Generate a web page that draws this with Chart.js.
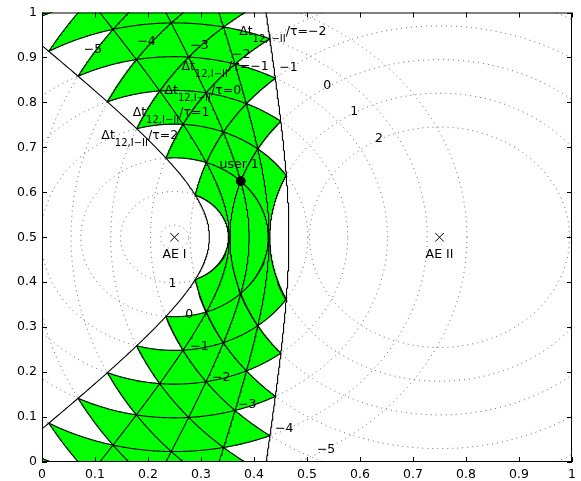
<!DOCTYPE html>
<html lang="en">
<head>
<meta charset="UTF-8">
<title>Range rings and TDOA hyperbolas</title>
<style>
  body { margin: 0; padding: 0; background: #fff; }
  #wrap { width: 581px; height: 481px; }
</style>
<script src="https://cdn.jsdelivr.net/npm/chart.js"></script>
</head>
<body>
<div id="wrap"><canvas id="tdoaChart" width="581" height="481"></canvas></div>
<script>
// emitters, user and the range quantum (c * tau)
const emitterNames = ['AE I', 'AE II'];
const emitterX = [0.25, 0.75];
const emitterY = [0.5, 0.5];
const userName = 'user 1';
const userX = [0.375];
const userY = [0.625];
const rangeStep = 0.075;

// ring levels (in tau), hyperbola levels, and which cells are shaded
const ringLevels = [2, 1, 0, -1, -2, -3, -4, -5];
const arcLevels = [2, 1, 0, -1, -2, -3, -4, -5, -6];
const hyperbolaLevels = [2, 1, 0, -1, -2];
const cellSpread = [-1, 0, 1];
const cellRows = [-2, -1, 0, 1, 2, 3, 4, 5, 6, 7];

const xTicks = [0, 0.1, 0.2, 0.3, 0.4, 0.5, 0.6, 0.7, 0.8, 0.9, 1];
const xTickLabels = ['0', '0.1', '0.2', '0.3', '0.4', '0.5', '0.6', '0.7', '0.8', '0.9', '1'];
const yTicks = [0, 0.1, 0.2, 0.3, 0.4, 0.5, 0.6, 0.7, 0.8, 0.9, 1];
const yTickLabels = ['0', '0.1', '0.2', '0.3', '0.4', '0.5', '0.6', '0.7', '0.8', '0.9', '1'];

// text annotations (data coordinates)
const topRingText = ['\u22125', '\u22124', '\u22123', '\u22122', '\u22121', '0', '1', '2'];
const topRingX = [0.096, 0.197, 0.297, 0.376, 0.465, 0.538, 0.589, 0.636];
const topRingY = [0.918, 0.935, 0.926, 0.907, 0.878, 0.838, 0.779, 0.720];
const bottomRingText = ['1', '0', '\u22121', '\u22122', '\u22123', '\u22124', '\u22125'];
const bottomRingX = [0.246, 0.278, 0.297, 0.338, 0.387, 0.457, 0.536];
const bottomRingY = [0.396, 0.328, 0.256, 0.188, 0.128, 0.075, 0.027];
const dtText = ['\u22122', '\u22121', '0', '1', '2'];
const dtX = [0.372, 0.263, 0.231, 0.171, 0.112];
const dtY = [0.957, 0.880, 0.825, 0.777, 0.726];
const emitterLabelY = [0.460, 0.460];
const userLabelX = 0.372;
const userLabelY = 0.662;

const FONT = '12.5px "DejaVu Sans"';
const SUBFONT = '10px "DejaVu Sans"';

// geometry
const s = rangeStep;
const x1 = emitterX[0], x2 = emitterX[1], yc = emitterY[0];
const D = x2 - x1;
const d1u = Math.hypot(userX[0] - x1, userY[0] - yc);
const d2u = Math.hypot(userX[0] - x2, userY[0] - yc);
const base = d2u - d1u;
const cMin = base + Math.min(...hyperbolaLevels) * s;
const cMax = base + Math.max(...hyperbolaLevels) * s;

function clamp1(v) { return Math.max(-1, Math.min(1, v)); }

function arcPts(cx, r, a0, a1, n) {
    const pts = [];
    for (let i = 0; i <= n; i++) {
        const a = a0 + (a1 - a0) * i / n;
        pts.push({ x: cx + r * Math.cos(a), y: yc + r * Math.sin(a) });
    }
    return pts;
}

// point with range d1 to AE I and d2 to AE II
function fromRanges(d1, d2, sign) {
    const dx = (d1 * d1 - d2 * d2 + D * D) / (2 * D);
    const h = Math.sqrt(Math.max(d1 * d1 - dx * dx, 0));
    return { x: x1 + dx, y: yc + sign * h };
}

function lineSet(points, color, width, dash, order) {
    return {
        data: points, showLine: true, borderColor: color, borderWidth: width,
        borderDash: dash, pointRadius: 0, fill: false, order: order
    };
}

const datasets = [];

// dotted range rings
ringLevels.forEach(k => {
    const r1 = d1u - k * s, r2 = d2u - k * s;
    if (r1 > 0) datasets.push(lineSet(arcPts(x1, r1, 0, 2 * Math.PI, 360), 'rgba(60,60,60,0.75)', 1, [1, 4], 4));
    if (r2 > 0) datasets.push(lineSet(arcPts(x2, r2, 0, 2 * Math.PI, 360), 'rgba(60,60,60,0.75)', 1, [1, 4], 4));
});

// shaded cells
cellRows.forEach(i => {
    cellSpread.forEach(dj => {
        const j = i + dj;
        let a0 = d1u + i * s, a1 = a0 + s, b0 = d2u + j * s, b1 = b0 + s;
        if (a1 <= 0 || b1 <= 0) return;
        a0 = Math.max(a0, 0); b0 = Math.max(b0, 0);
        if (a1 + b1 <= D) return;
        const n = 40, loop = [];
        for (let k = 0; k < n; k++) loop.push([a0 + (a1 - a0) * k / n, b0]);
        for (let k = 0; k < n; k++) loop.push([a1, b0 + (b1 - b0) * k / n]);
        for (let k = 0; k < n; k++) loop.push([a1 - (a1 - a0) * k / n, b1]);
        for (let k = 0; k <= n; k++) loop.push([a0, b1 - (b1 - b0) * k / n]);
        [1, -1].forEach(sign => {
            datasets.push({
                data: loop.map(p => fromRanges(p[0], p[1], sign)),
                showLine: true, fill: 'shape', backgroundColor: '#00ff00',
                borderColor: '#00ff00', borderWidth: 1, pointRadius: 0, order: 3
            });
        });
    });
});

// solid ring arcs inside the hyperbola band
arcLevels.forEach(k => {
    const r = d1u - k * s;
    if (r > 0) {
        const lo = Math.max(r + cMin, Math.abs(D - r)), hi = Math.min(r + cMax, D + r);
        if (lo < hi) {
            const t0 = Math.acos(clamp1((r * r + D * D - lo * lo) / (2 * r * D)));
            const t1 = Math.acos(clamp1((r * r + D * D - hi * hi) / (2 * r * D)));
            datasets.push(lineSet(arcPts(x1, r, t0, t1, 200), '#000', 1.1, [], 2));
            datasets.push(lineSet(arcPts(x1, r, -t0, -t1, 200), '#000', 1.1, [], 2));
        }
    }
    const R = d2u - k * s;
    if (R > 0) {
        const lo = Math.max(R - cMax, Math.abs(D - R)), hi = Math.min(R - cMin, D + R);
        if (lo < hi) {
            const p0 = Math.acos(clamp1((lo * lo - R * R - D * D) / (2 * R * D)));
            const p1 = Math.acos(clamp1((hi * hi - R * R - D * D) / (2 * R * D)));
            datasets.push(lineSet(arcPts(x2, R, p0, p1, 200), '#000', 1.1, [], 2));
            datasets.push(lineSet(arcPts(x2, R, -p0, -p1, 200), '#000', 1.1, [], 2));
        }
    }
});

// hyperbolas d2 - d1 = const
hyperbolaLevels.forEach(m => {
    const a = (base + m * s) / 2, c = D / 2, b = Math.sqrt(c * c - a * a);
    const xm = (x1 + x2) / 2;
    const tMax = Math.asinh(0.55 / b);
    const pts = [];
    for (let i = 0; i <= 300; i++) {
        const t = -tMax + 2 * tMax * i / 300;
        pts.push({ x: xm - a * Math.cosh(t), y: yc + b * Math.sinh(t) });
    }
    datasets.push(lineSet(pts, '#000', 1.1, [], 1));
});

// emitters and user
datasets.push({
    data: emitterX.map((v, i) => ({ x: v, y: emitterY[i] })),
    showLine: false, pointStyle: 'crossRot', pointRadius: 6,
    borderColor: '#000', borderWidth: 1, backgroundColor: '#000', order: 0
});
datasets.push({
    data: userX.map((v, i) => ({ x: v, y: userY[i] })),
    showLine: false, pointStyle: 'circle', pointRadius: 4.5,
    borderColor: '#000', borderWidth: 1, backgroundColor: '#000', order: 0
});

const textPlugin = {
    id: 'textAndBox',
    afterDatasetsDraw(chart) {
        const { ctx, scales: { x, y } } = chart;
        ctx.save();
        ctx.fillStyle = '#000';
        ctx.textBaseline = 'middle';
        ctx.textAlign = 'center';
        ctx.font = FONT;
        topRingText.forEach((t, i) => ctx.fillText(t, x.getPixelForValue(topRingX[i]), y.getPixelForValue(topRingY[i])));
        bottomRingText.forEach((t, i) => ctx.fillText(t, x.getPixelForValue(bottomRingX[i]), y.getPixelForValue(bottomRingY[i])));
        emitterNames.forEach((t, i) => ctx.fillText(t, x.getPixelForValue(emitterX[i]), y.getPixelForValue(emitterLabelY[i])));
        ctx.fillText(userName, x.getPixelForValue(userLabelX), y.getPixelForValue(userLabelY));

        ctx.textAlign = 'left';
        dtText.forEach((t, i) => {
            let px = x.getPixelForValue(dtX[i]);
            const py = y.getPixelForValue(dtY[i]);
            ctx.font = FONT;
            ctx.fillText('\u0394t', px, py);
            px += ctx.measureText('\u0394t').width;
            ctx.font = SUBFONT;
            ctx.fillText('12,I\u2212II', px, py + 7.5);
            px += ctx.measureText('12,I\u2212II').width;
            ctx.font = FONT;
            ctx.fillText('/\u03c4=' + t, px, py);
        });
        ctx.restore();
    },
    afterDraw(chart) {
        const { ctx, chartArea: a, scales: { x, y } } = chart;
        ctx.save();
        ctx.strokeStyle = '#000';
        ctx.lineWidth = 1;
        ctx.strokeRect(a.left + 0.5, a.top + 0.5, a.right - a.left - 1, a.bottom - a.top - 1);
        ctx.beginPath();
        xTicks.forEach(v => {
            const px = Math.round(x.getPixelForValue(v)) + 0.5;
            ctx.moveTo(px, a.bottom); ctx.lineTo(px, a.bottom - 5);
            ctx.moveTo(px, a.top); ctx.lineTo(px, a.top + 5);
        });
        yTicks.forEach(v => {
            const py = Math.round(y.getPixelForValue(v)) + 0.5;
            ctx.moveTo(a.left, py); ctx.lineTo(a.left + 5, py);
            ctx.moveTo(a.right, py); ctx.lineTo(a.right - 5, py);
        });
        ctx.stroke();
        ctx.restore();
    }
};

new Chart(document.getElementById('tdoaChart'), {
    type: 'scatter',
    data: { datasets: datasets },
    options: {
        responsive: false,
        animation: false,
        events: [],
        layout: { padding: { left: 0, right: 7, top: 7, bottom: 0 } },
        plugins: { legend: { display: false }, tooltip: { enabled: false } },
        scales: {
            x: {
                type: 'linear', min: 0, max: 1,
                afterBuildTicks: sc => { sc.ticks = xTicks.map(v => ({ value: v })); },
                afterFit: sc => { sc.height = 19; },
                grid: { display: false, drawTicks: false, tickLength: 0 },
                border: { display: false },
                ticks: {
                    color: '#000', font: { family: 'DejaVu Sans', size: 12.5 }, padding: 5,
                    maxRotation: 0, autoSkip: false,
                    callback: (v, i) => xTickLabels[i]
                }
            },
            y: {
                type: 'linear', min: 0, max: 1,
                afterBuildTicks: sc => { sc.ticks = yTicks.map(v => ({ value: v })); },
                afterFit: sc => { sc.width = 42; },
                grid: { display: false, drawTicks: false, tickLength: 0 },
                border: { display: false },
                ticks: {
                    color: '#000', font: { family: 'DejaVu Sans', size: 12.5 }, padding: 5,
                    autoSkip: false,
                    callback: (v, i) => yTickLabels[i]
                }
            }
        }
    },
    plugins: [textPlugin]
});
</script>
</body>
</html>
